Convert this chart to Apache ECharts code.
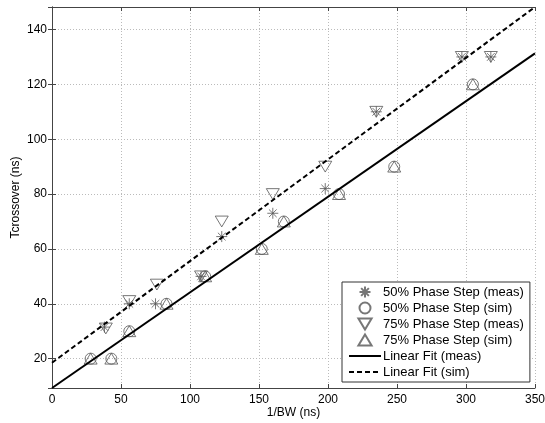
<!DOCTYPE html>
<html>
<head>
<meta charset="utf-8">
<script src="https://cdn.jsdelivr.net/npm/echarts@6/dist/echarts.min.js"></script>
<style>html,body{margin:0;padding:0;background:#fff}#c{width:545px;height:423px}</style>
</head>
<body>
<div id="c"></div>
<script>
// Data
var meas50 = [[38,31.5],[56,40],[75,40],[108,50],[123,64.5],[160,73],[198,82],[235,110],[297,130],[318,130]];
var sim50  = [[28,20],[43,20],[56,30],[83,40],[111,50],[152,60],[168,70],[208,80],[248,90],[305,120]];
var meas75 = [[39,31],[56,41],[76,47],[108,50],[123,70],[160,80],[198,90],[235,110],[297,130],[318,130]];
var sim75  = [[28,20],[43,20],[56,30],[83,40],[111,50],[152,60],[168,70],[208,80],[248,90],[305,120]];
var fitMeas = [[0,9.3],[350,131.3]];
var fitSim  = [[0,18.5],[350,148.2]];
var xMin = 0, xMax = 350, xStep = 50;
var yMin = 9.3, yMax = 148.2;
var names = ['50% Phase Step (meas)','50% Phase Step (sim)','75% Phase Step (meas)','75% Phase Step (sim)','Linear Fit (meas)','Linear Fit (sim)'];

var FONT = 'Liberation Sans, Arial, sans-serif';
var asterisk = 'path://M5,0L5,10M0,5L10,5M1.5,1.5L8.5,8.5M1.5,8.5L8.5,1.5';
var triDown = 'path://M0,0L12,0L6,10Z';
var triUp = 'path://M6,0L12,10L0,10Z';
var mk = '#555';
var chart = echarts.init(document.getElementById('c'));
var axisCommon = {
  axisLine: {show: true, lineStyle: {color: '#444', width: 1}},
  axisTick: {show: true, inside: true, length: 4, lineStyle: {color: '#444'}},
  axisLabel: {color: '#000', fontFamily: FONT, fontSize: 12}
};
chart.setOption({
  animation: false,
  grid: {left: 52, right: 10, top: 7, bottom: 35, outerBoundsMode: 'none', containLabel: false},
  xAxis: [
    Object.assign({}, axisCommon, {type: 'value', min: xMin, max: xMax, interval: xStep, position: 'bottom',
      name: '1/BW (ns)', nameLocation: 'middle', nameGap: 19, nameMoveOverlap: false,
      nameTextStyle: {color: '#000', fontFamily: FONT, fontSize: 12},
      axisLabel: {color: '#000', fontFamily: FONT, fontSize: 12, margin: 6},
      splitLine: {show: true, lineStyle: {color: '#bbb', type: [1, 2]}}}),
    Object.assign({}, axisCommon, {type: 'value', min: xMin, max: xMax, interval: xStep, position: 'top',
      axisLabel: {show: false}, splitLine: {show: false}})
  ],
  yAxis: [
    Object.assign({}, axisCommon, {type: 'value', min: yMin, max: yMax, splitNumber: 7, position: 'left',
      name: 'Tcrossover (ns)', nameLocation: 'middle', nameGap: 30, nameMoveOverlap: false,
      nameTextStyle: {color: '#000', fontFamily: FONT, fontSize: 12},
      axisLabel: {color: '#000', fontFamily: FONT, fontSize: 12, margin: 5, showMinLabel: false, showMaxLabel: false},
      splitLine: {show: true, lineStyle: {color: '#bbb', type: [1, 2]}}}),
    Object.assign({}, axisCommon, {type: 'value', min: yMin, max: yMax, splitNumber: 7, position: 'right',
      axisLabel: {show: false}, splitLine: {show: false}})
  ],
  legend: {
    orient: 'vertical', left: 342, top: 282,
    backgroundColor: '#fff', borderColor: '#333', borderWidth: 1,
    padding: [2, 6, 2, 6], itemWidth: 32, itemHeight: 11, itemGap: 0,
    textStyle: {color: '#000', fontFamily: FONT, fontSize: 13, lineHeight: 16, padding: [0,0,0,-3]},
    data: [
      {name: names[0]}, {name: names[1]}, {name: names[2]}, {name: names[3]},
      {name: names[4], itemStyle: {opacity: 0}},
      {name: names[5], itemStyle: {opacity: 0}}
    ]
  },
  series: [
    {name: names[0], type: 'scatter', data: meas50, symbol: asterisk, symbolSize: 11, symbolKeepAspect: true,
     itemStyle: {color: 'none', borderColor: mk, borderWidth: 1}},
    {name: names[1], type: 'scatter', data: sim50, symbol: 'circle', symbolSize: 11,
     itemStyle: {color: 'none', borderColor: mk, borderWidth: 1}},
    {name: names[2], type: 'scatter', data: meas75, symbol: triDown, symbolSize: 13, symbolKeepAspect: true,
     itemStyle: {color: 'none', borderColor: mk, borderWidth: 1}},
    {name: names[3], type: 'scatter', data: sim75, symbol: triUp, symbolSize: 13, symbolKeepAspect: true,
     itemStyle: {color: 'none', borderColor: mk, borderWidth: 1}},
    {name: names[4], type: 'line', data: fitMeas, symbol: 'none', showSymbol: false,
     lineStyle: {color: '#000', width: 2, type: 'solid'}, itemStyle: {color: '#000'}},
    {name: names[5], type: 'line', data: fitSim, symbol: 'none', showSymbol: false,
     lineStyle: {color: '#000', width: 2, type: [5, 3]}, itemStyle: {color: '#000'}}
  ]
});
</script>
</body>
</html>
